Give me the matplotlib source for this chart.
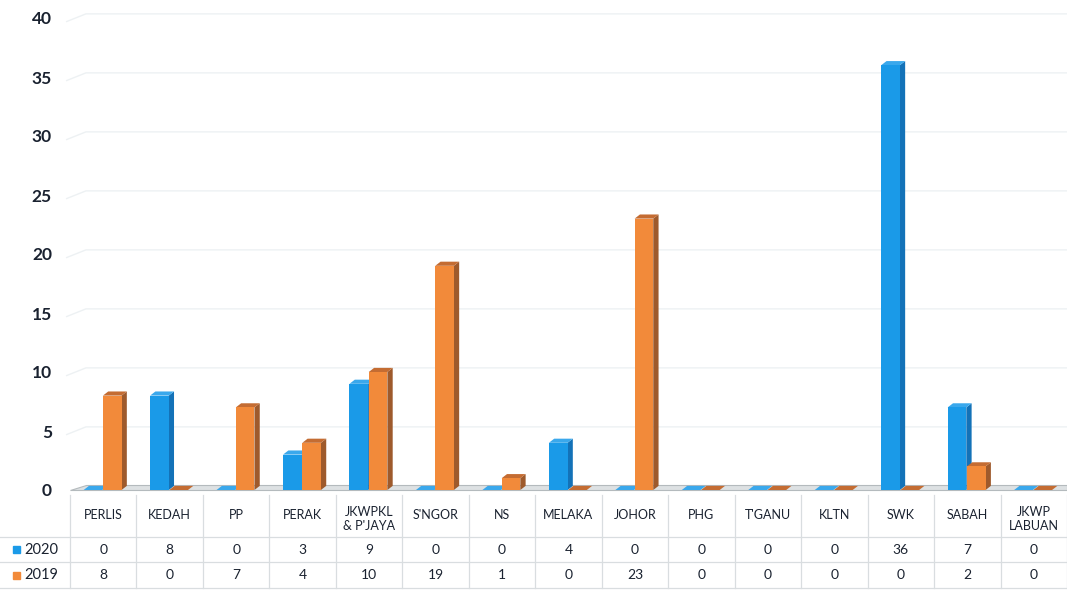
import matplotlib
matplotlib.use("Agg")
import matplotlib.pyplot as plt
from matplotlib.patches import Polygon
import numpy as np

plt.rcParams['font.family'] = ['Lato', 'DejaVu Sans']

# data
states = ["PERLIS", "KEDAH", "PP", "PERAK", "JKWPKL\n& P'JAYA", "S'NGOR", "NS",
          "MELAKA", "JOHOR", "PHG", "T'GANU", "KLTN", "SWK", "SABAH", "JKWP\nLABUAN"]
y2020 = [0, 8, 0, 3, 9, 0, 0, 4, 0, 0, 0, 0, 36, 7, 0]
y2019 = [8, 0, 7, 4, 10, 19, 1, 0, 23, 0, 0, 0, 0, 2, 0]
series_names = ["2020", "2019"]

blue = "#1a9ae8"
blue_side = "#1372b8"
blue_top = "#3aa8ec"
orange = "#f28a3a"
orange_side = "#9e5a2c"
orange_top = "#c46c32"

W, H = 1067, 592
fig = plt.figure(figsize=(W / 100, H / 100), dpi=100)

ax_l, ax_r = 70 / W, 1.0
ax_b, ax_t = (H - 490) / H, (H - 18) / H
ax = fig.add_axes([ax_l, ax_b, ax_r - ax_l, ax_t - ax_b])
n = len(states)
x = np.arange(n)
ax.set_xlim(-0.5, n - 0.5)
ax.set_ylim(0, 40)

dx, dy = 0.08, 0.35
bw = 0.28

# gridlines with a small perspective kink on the left
for g in range(5, 45, 5):
    ax.plot([-0.55, -0.5 + dx * 3, n - 0.5], [g - 0.3, g + dy, g + dy],
            color="#edf1f3", lw=1.0, zorder=0, clip_on=False)
# floor
ax.add_patch(Polygon([(-0.5, 0), (n - 0.5, 0), (n - 0.5, dy + 0.05), (-0.5 + dx * 3, dy + 0.05)],
                     closed=True, facecolor="#dde1e3", edgecolor="#b4babd", lw=0.8, zorder=1,
                     clip_on=False))


def bar3d(x0, h, front, side, top):
    x1 = x0 + bw
    ax.add_patch(Polygon([(x1, 0), (x1 + dx, dy), (x1 + dx, h + dy), (x1, h)],
                         closed=True, facecolor=side, edgecolor="none", zorder=3))
    ax.add_patch(Polygon([(x0, h), (x0 + dx, h + dy), (x1 + dx, h + dy), (x1, h)],
                         closed=True, facecolor=top, edgecolor="none", zorder=3))
    ax.bar(x0, h, width=bw, align="edge", color=front, zorder=4, linewidth=0)


for i in range(n):
    bar3d(x[i] - 0.295, y2020[i], blue, blue_side, blue_top)
    bar3d(x[i] - 0.005, y2019[i], orange, orange_side, orange_top)

ax.set_yticks(range(0, 45, 5))
ax.tick_params(axis="y", length=0, pad=13, labelsize=12.5, labelcolor="#1a2230")
for lb in ax.get_yticklabels():
    lb.set_fontweight("bold")
ax.set_xticks([])
for s in ax.spines.values():
    s.set_visible(False)

# data table below
tb = fig.add_axes([0, 0, 1, 100 / H])
left_units = 70 / (997 / n)
tb.set_xlim(-0.5 - left_units, n - 0.5)
tb.set_ylim(0, 100)
tb.axis("off")
line_c = "#d9dde0"
for yy in (55, 30, 4):
    tb.plot([-0.5 - left_units, n - 0.5], [yy, yy], color=line_c, lw=0.9)
for i in range(n + 1):
    tb.plot([i - 0.5, i - 0.5], [4, 97], color=line_c, lw=0.9)

txt_c = "#1a2230"
for i in range(n):
    tb.text(x[i], 77 if "\n" not in states[i] else 73, states[i], ha="center", va="center",
            fontsize=9, color=txt_c, linespacing=1.25)
    tb.text(x[i], 42.5, str(y2020[i]), ha="center", va="center", fontsize=10, color=txt_c)
    tb.text(x[i], 17, str(y2019[i]), ha="center", va="center", fontsize=10, color=txt_c)

lx = -0.5 - left_units
for name, col, yy in ((series_names[0], blue, 42.5), (series_names[1], orange, 17)):
    tb.add_patch(plt.Rectangle((lx + 0.2, yy - 3.5), 0.1, 7, color=col))
    tb.text(lx + 0.36, yy, name, ha="left", va="center", fontsize=10.5, color=txt_c)

fig.savefig("out.png", dpi=100)
